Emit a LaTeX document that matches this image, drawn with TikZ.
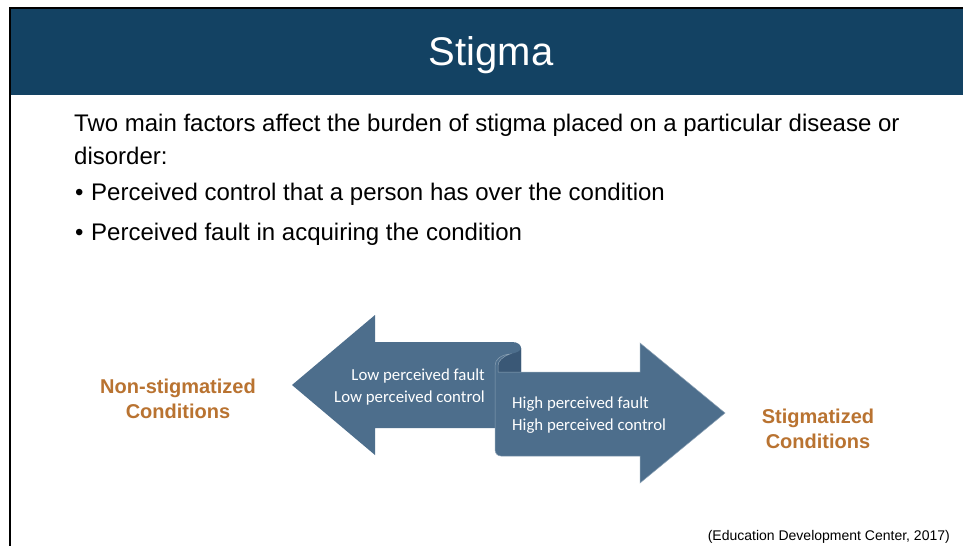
\documentclass[tikz,border=0pt]{standalone}
\usepackage{fontspec}
\setmainfont{Liberation Sans}
\newfontfamily\arrowfont{Carlito}
\definecolor{headc}{HTML}{134263}
\definecolor{arrowc}{HTML}{4D6E8C}
\definecolor{curlc}{HTML}{3A5876}
\definecolor{orangec}{HTML}{B97331}
\tikzset{
  bodytext/.style={anchor=base west, inner sep=0pt, font=\fontsize{24}{28}\selectfont},
  condtext/.style={anchor=base, inner sep=0pt, align=center, text=orangec, font=\fontsize{20}{25}\bfseries\selectfont},
  arrtext/.style={inner sep=0pt, text=white, font=\arrowfont\fontsize{16.8}{22}\selectfont},
  banner/.style={fill=arrowc, draw=none},
}
\begin{document}
\begin{tikzpicture}[x=1pt,y=-1pt]
\useasboundingbox (0,0) rectangle (963,546);
\fill[white] (0,0) rectangle (963,546);
% frame lines
\fill[black] (9,7) rectangle (963,9);
\fill[black] (9,7) rectangle (11,546);
% header
\fill[headc] (11,9) rectangle (963,95);
\node[anchor=base, inner sep=0pt, text=white, font=\fontsize{40}{48}\selectfont] (title) at (491,65) {Stigma};
% body
\node[bodytext] (l1) at (74,131) {Two main factors affect the burden of stigma placed on a particular disease or};
\node[bodytext] (l2) at (74,164) {disorder:};
\node[bodytext] (b1m) at (75,200) {\textbullet};
\node[bodytext] (b1) at (91,200) {Perceived control that a person has over the condition};
\node[bodytext] (b2m) at (75,240) {\textbullet};
\node[bodytext] (b2) at (91,240) {Perceived fault in acquiring the condition};
% left arrow
\path[banner] (292,385) -- (375,315) -- (375,342) -- (512,342)
  .. controls (518,342) and (521,345) .. (521,348) -- (521,428)
  -- (375,428) -- (375,455) -- cycle;
% curl back
\fill[curlc] (521,348) .. controls (521,351) and (517,353) .. (510,354)
  .. controls (501,355) and (497,360) .. (497,366) -- (497,373) -- (521,373) -- cycle;
% right arrow
\path[banner, draw=white!35!arrowc, line width=0.5pt] (510,354) .. controls (501,355) and (495,359) .. (495,366)
  -- (495,449) .. controls (495,453) and (497,456) .. (501,456)
  -- (640,456) -- (640,483) -- (725,413) -- (640,343) -- (640,372)
  -- (498,372) -- (498,366) .. controls (498,361) and (502,357) .. (510,354) -- cycle;
% arrow texts
\node[arrtext, anchor=base east] (lf) at (485,380) {Low perceived fault};
\node[arrtext, anchor=base east] (lc) at (485,402) {Low perceived control};
\node[arrtext, anchor=base west] (hf) at (512,408) {High perceived fault};
\node[arrtext, anchor=base west] (hc) at (512,430) {High perceived control};
% condition labels
\node[condtext] (ns1) at (178,393) {Non-stigmatized};
\node[condtext] (ns2) at (178,418) {Conditions};
\node[condtext] (s1) at (818,423) {Stigmatized};
\node[condtext] (s2) at (818,448) {Conditions};
% citation
\node[anchor=base east, inner sep=0pt, font=\fontsize{14}{16}\selectfont] (cite) at (950,540) {(Education Development Center, 2017)};
\end{tikzpicture}
\end{document}
